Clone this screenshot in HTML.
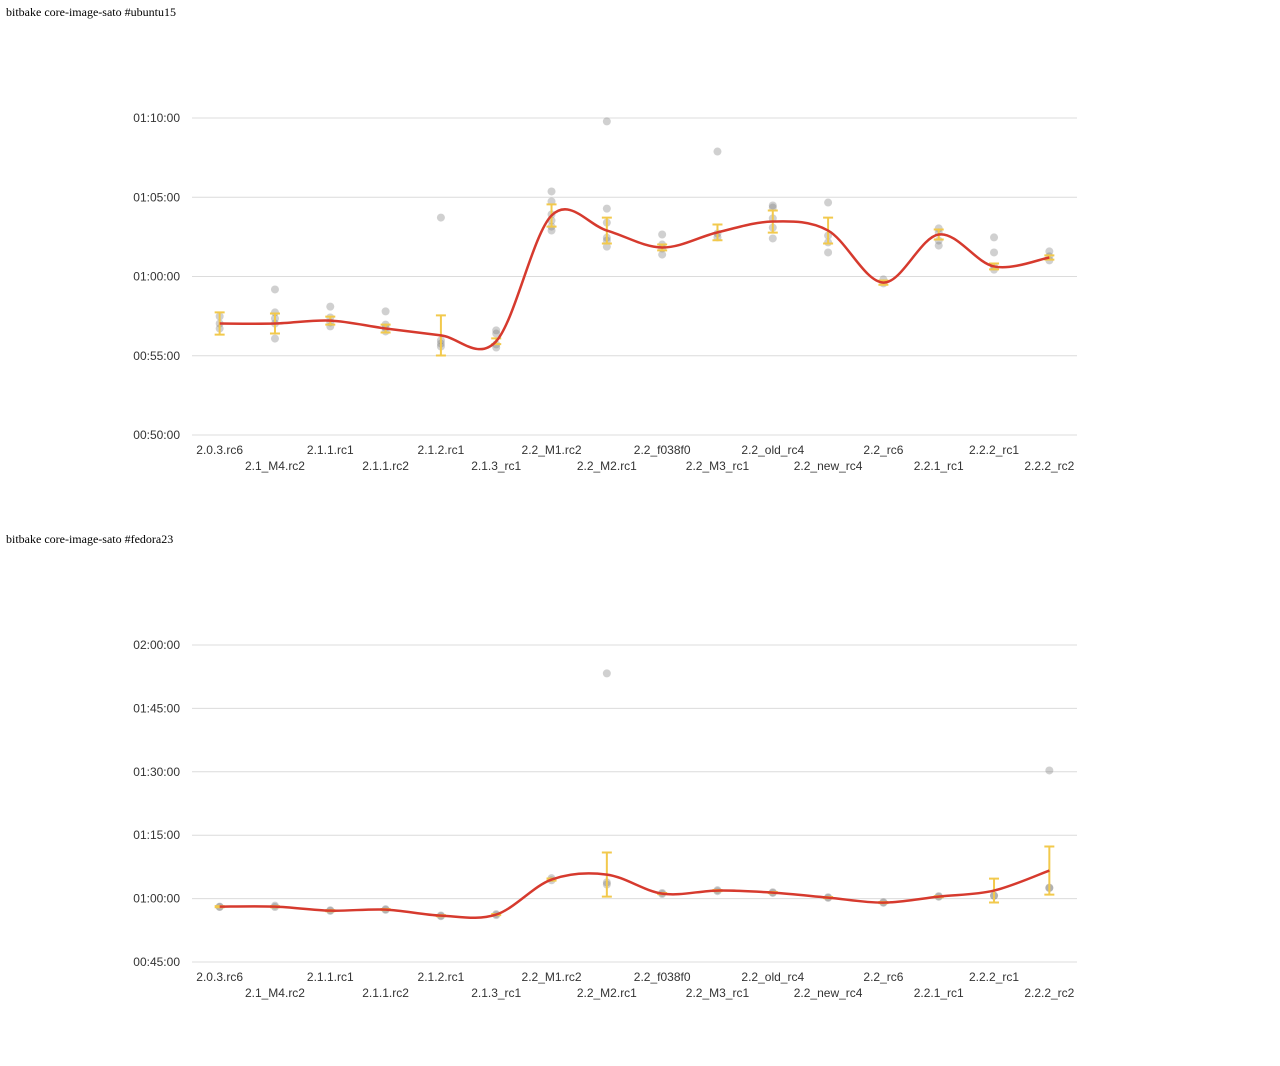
<!DOCTYPE html>
<html><head><meta charset="utf-8"><style>
html,body{margin:0;padding:0;background:#fff;width:1280px;height:1066px;overflow:hidden}
svg{display:block}
.title{font-family:"Liberation Serif",serif;font-size:12px;fill:#000}
.tick{font-family:"Liberation Sans",sans-serif;font-size:12px;fill:#333}
</style></head><body>
<svg id="root" width="1280" height="1066"></svg>
<script>
const categories = ["2.0.3.rc6","2.1_M4.rc2","2.1.1.rc1","2.1.1.rc2","2.1.2.rc1","2.1.3_rc1","2.2_M1.rc2","2.2_M2.rc1","2.2_f038f0","2.2_M3_rc1","2.2_old_rc4","2.2_new_rc4","2.2_rc6","2.2.1_rc1","2.2.2_rc1","2.2.2_rc2"];

// Chart 1 (ubuntu15), values in seconds
const ubuntuMeans = [3422,3422,3433,3403,3377,3355,3831,3774,3710,3767,3808,3774,3577,3759,3638,3672];
const ubuntuErr = [42,38,15,15,76,11,42,49,11,30,42,49,8,19,11,8];
const ubuntuPoints = [
 [3449,3422,3403],
 [3551,3464,3441,3422,3365],
 [3486,3445,3426,3411],
 [3468,3418,3407,3392],
 [3823,3358,3346,3335],
 [3396,3384,3343,3331],
 [3922,3884,3835,3812,3789,3774],
 [4187,3857,3804,3747,3736,3713],
 [3759,3721,3706,3683],
 [4073,3763,3748],
 [3869,3861,3820,3785,3744],
 [3880,3755,3729,3691],
 [3589,3574],
 [3782,3767,3736,3717],
 [3748,3691,3638,3626],
 [3695,3676,3661]
];
const ubuntuTicks = [3000,3300,3600,3900,4200];

// Chart 2 (fedora23)
const fedoraMeans = [3486,3486,3429,3444,3358,3373,3870,3941,3671,3714,3685,3614,3543,3628,3714,3998];
const fedoraErr = [8,8,8,8,8,8,15,313,8,8,8,8,8,8,170,341];
const fedoraPoints = [
 [3486,3480],[3500,3480],[3435,3425],[3450,3440],[3360,3350],[3380,3365],
 [3890,3860],[6797,3830,3800],[3680,3665],[3720,3705],[3690,3680],[3620,3610],
 [3550,3540],[3635,3625],[3643,3640],[5419,3756,3750]
];
const fedoraTicks = [2700,3600,4500,5400,6300,7200];

const NS="http://www.w3.org/2000/svg";
const root=document.getElementById('root');
function mk(tag,attrs,parent){const e=document.createElementNS(NS,tag);for(const k in attrs)e.setAttribute(k,attrs[k]);(parent||root).appendChild(e);return e;}
function fmt(s){const h=Math.floor(s/3600),m=Math.floor(s%3600/60),ss=s%60;const p=n=>String(n).padStart(2,'0');return p(h)+':'+p(m)+':'+p(ss);}

function drawChart(cfg){
  const g=mk('g',{});
  
  
  const t=mk('text',{x:6,y:cfg.titleY,class:'title'},g);
  t.textContent=cfg.title;
  
  
  const x0=192,x1=1077,bw=(x1-x0)/categories.length;
  const xs=i=>x0+bw*(i+0.5);
  const ys=v=>cfg.yBottom-(v-cfg.vMin)/(cfg.vMax-cfg.vMin)*(cfg.yBottom-cfg.yTop);
  cfg.ticks.forEach(v=>{
    const l=mk('line',{x1:x0,x2:x1,y1:ys(v),y2:ys(v),stroke:'#dcdcdc','stroke-width':1},g);
    
    
    const tx=mk('text',{x:180,y:ys(v)+4,'text-anchor':'end',class:'tick'},g);
    tx.textContent=fmt(v);
    
    
  });
  categories.forEach((c,i)=>{
    const tx=mk('text',{x:xs(i),y:cfg.yBottom+19+(i%2)*16,'text-anchor':'middle',class:'tick'},g);
    tx.textContent=c;
    
    
  });
  cfg.points.forEach((arr,i)=>arr.forEach(v=>{
    const p=mk('circle',{cx:xs(i),cy:ys(v),r:4,fill:'rgba(120,120,120,0.35)'},g);
    
    
  }));
  cfg.means.forEach((m,i)=>{
    const e=cfg.err[i],x=xs(i),a=ys(m+e),b=ys(m-e);
    const eb=mk('path',{d:`M${x-5},${a}H${x+5}M${x},${a}V${b}M${x-5},${b}H${x+5}`,stroke:'#f2c94c','stroke-width':2,fill:'none'},g);
    
    
  });
  const pts=cfg.means.map((m,i)=>[xs(i),ys(m)]);
  let d=`M${pts[0][0]},${pts[0][1]}`;
  for(let i=0;i<pts.length-1;i++){
    const p0=pts[i-1]||pts[i],p1=pts[i],p2=pts[i+1],p3=pts[i+2]||p2;
    const c1=[p1[0]+(p2[0]-p0[0])/6,p1[1]+(p2[1]-p0[1])/6];
    const c2=[p2[0]-(p3[0]-p1[0])/6,p2[1]-(p3[1]-p1[1])/6];
    d+=`C${c1[0]},${c1[1]} ${c2[0]},${c2[1]} ${p2[0]},${p2[1]}`;
  }
  const ln=mk('path',{d:d,stroke:'#d63a2e','stroke-width':2.5,fill:'none'},g);
  
  
}

drawChart({name:'ubuntu15-chart',title:'bitbake core-image-sato #ubuntu15',titleY:16,
  means:ubuntuMeans,err:ubuntuErr,points:ubuntuPoints,ticks:ubuntuTicks,
  vMin:3000,vMax:4200,yBottom:435,yTop:118});
drawChart({name:'fedora23-chart',title:'bitbake core-image-sato #fedora23',titleY:543,
  means:fedoraMeans,err:fedoraErr,points:fedoraPoints,ticks:fedoraTicks,
  vMin:2700,vMax:7200,yBottom:962,yTop:645});
</script>
</body></html>
